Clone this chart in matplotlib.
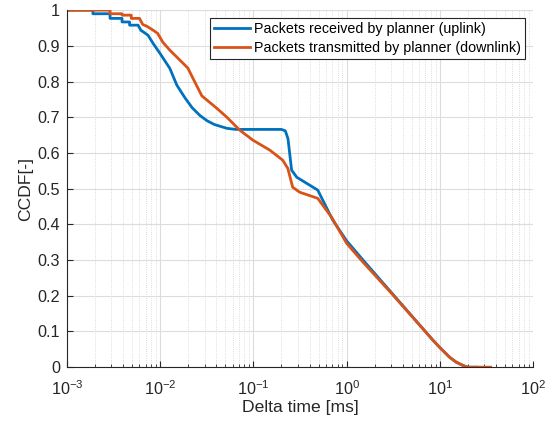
import numpy as np
import matplotlib
matplotlib.use("Agg")
import matplotlib.pyplot as plt
from matplotlib.ticker import LogLocator, FixedLocator

plt.rcParams['font.family'] = ['Liberation Sans', 'DejaVu Sans']
plt.rcParams['mathtext.fontset'] = 'custom'
plt.rcParams['mathtext.rm'] = 'Liberation Sans'

# CCDF curves (delta time in ms)
uplink_t = [0.001, 0.0019, 0.0019, 0.0029, 0.0029, 0.0039, 0.0039, 0.0047, 0.0047, 0.0058,
            0.0062, 0.0074, 0.0084, 0.0099, 0.0127, 0.0151, 0.0184, 0.022, 0.0267, 0.032,
            0.038, 0.0437, 0.052, 0.065, 0.2, 0.22, 0.235, 0.257, 0.292, 0.373,
            0.49, 0.71, 1.0, 1.5, 3.0, 8.4, 10.0, 12.7, 15.0, 18.0, 20.0, 25]
uplink_ccdf = [1.0, 1.0, 0.99, 0.99, 0.977, 0.977, 0.967, 0.967, 0.958, 0.958,
               0.944, 0.93, 0.907, 0.88, 0.837, 0.79, 0.755, 0.727, 0.705, 0.69,
               0.68, 0.675, 0.669, 0.666, 0.666, 0.662, 0.64, 0.552, 0.532, 0.515,
               0.496, 0.412, 0.354, 0.30, 0.21, 0.076, 0.055, 0.028, 0.014, 0.004, 0.0, 0.0]

downlink_t = [0.001, 0.0029, 0.0029, 0.0039, 0.0039, 0.0049, 0.0049, 0.006, 0.0065, 0.0072,
              0.0084, 0.0094, 0.0107, 0.0127, 0.0163, 0.0198, 0.0224, 0.028, 0.0406, 0.052,
              0.0714, 0.0987, 0.15, 0.206, 0.234, 0.264, 0.314, 0.49, 0.69, 1.0,
              1.5, 3.0, 8.4, 10.0, 12.7, 15.0, 18.0, 20.0, 35]
downlink_ccdf = [1.0, 1.0, 0.99, 0.99, 0.986, 0.986, 0.977, 0.977, 0.96, 0.955,
                 0.944, 0.935, 0.91, 0.888, 0.86, 0.838, 0.81, 0.76, 0.725, 0.70,
                 0.664, 0.636, 0.608, 0.58, 0.557, 0.504, 0.49, 0.473, 0.42, 0.347,
                 0.294, 0.208, 0.076, 0.055, 0.028, 0.014, 0.004, 0.0, 0.0]

labels = ["Packets received by planner (uplink)", "Packets transmitted by planner (downlink)"]

fig = plt.figure(figsize=(5.53, 4.24), dpi=100)
ax = fig.add_axes([0.121, 0.134, 0.843, 0.842])

ax.plot(uplink_t, uplink_ccdf, color='#0072BD', lw=2, label=labels[0])
ax.plot(downlink_t, downlink_ccdf, color='#D95319', lw=2, label=labels[1])

ax.set_xscale('log')
ax.set_xlim(1e-3, 1e2)
ax.set_ylim(0, 1)
ax.yaxis.set_major_locator(FixedLocator(np.arange(0, 1.01, 0.1)))
ax.set_yticklabels(['0'] + ['%.1f' % v for v in np.arange(0.1, 0.95, 0.1)] + ['1'])
ax.xaxis.set_minor_locator(LogLocator(base=10, subs=np.arange(2, 10), numticks=20))

ax.grid(True, which='major', color='#dcdcdc', lw=0.8, ls='-')
ax.grid(True, which='minor', axis='x', color='#d0d0d0', lw=0.6, ls=':')
ax.set_axisbelow(True)

for s in ['top', 'right']:
    ax.spines[s].set_visible(False)
for s in ['left', 'bottom']:
    ax.spines[s].set_color('#262626')
    ax.spines[s].set_linewidth(0.8)

ax.tick_params(which='both', direction='in', colors='#262626', labelsize=11.7, top=False, right=False)
ax.tick_params(which='major', length=4)
ax.tick_params(which='minor', length=2.5)
ax.tick_params(axis='x', pad=8.5)
ax.tick_params(axis='y', pad=5)

ax.set_xlabel('Delta time [ms]', fontsize=12.6, color='#262626', labelpad=2)
ax.set_ylabel('CCDF[-]', fontsize=12.6, color='#262626', labelpad=3)

leg = ax.legend(loc='upper right', fontsize=10.3, fancybox=False, framealpha=1,
                edgecolor='#262626', borderpad=0.3, handlelength=2.5,
                handletextpad=0.3, labelspacing=0.3, borderaxespad=0.55)
leg.get_frame().set_linewidth(0.8)

fig.savefig('out.png', dpi=100)
